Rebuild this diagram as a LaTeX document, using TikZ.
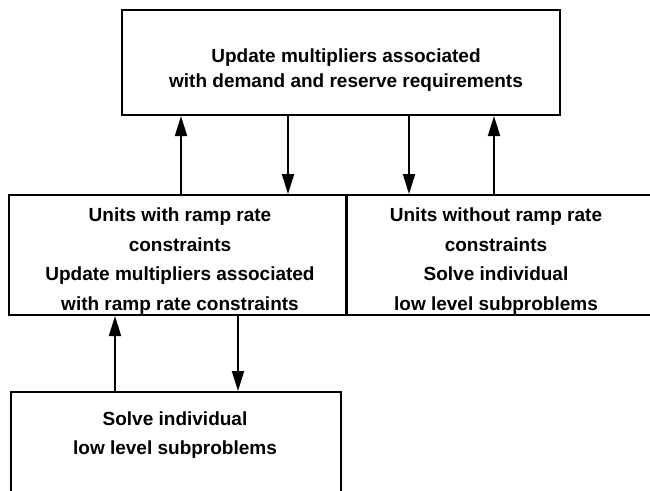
\documentclass[tikz,border=0pt]{standalone}
\usepackage{fontspec}
\setmainfont{Liberation Sans}
\usetikzlibrary{arrows.meta}

\begin{document}
\begin{tikzpicture}[
  x=1pt, y=-1pt,
  >={Triangle[length=20pt, width=12pt]},
  box/.style={draw, line width=2pt, inner sep=0pt},
  txt/.style={font=\fontsize{19}{29.5}\selectfont\bfseries, align=center},
  flow/.style={->, line width=2pt},
]

% Page frame
\useasboundingbox (0,0) rectangle (650,490);

% =============================================
% Boxes
% =============================================

% Top level: master problem
\node[box, minimum width=438pt, minimum height=105pt] (master) at (341,62.5) {};
\node[txt, font=\fontsize{19}{25}\selectfont\bfseries] (mastertxt) at (346,70)
  {Update multipliers associated\\with demand and reserve requirements};

% Middle level, left: units with ramp rate constraints
\node[box, minimum width=337pt, minimum height=120pt] (ramp) at (177.5,255) {};
\node[txt] (ramptxt) at (180,261)
  {Units with ramp rate\\constraints\\Update multipliers associated\\with ramp rate constraints};

% Middle level, right: units without ramp rate constraints (runs off the page)
\node[box, anchor=west, minimum width=324pt, minimum height=120pt] (free) at (346,255) {};
\node[txt] (freetxt) at (496,261)
  {Units without ramp rate\\constraints\\Solve individual\\low level subproblems};

% Bottom level: subproblems (runs off the page)
\node[box, anchor=north west, minimum width=330pt, minimum height=130pt] (sub) at (10,391) {};
\node[txt] (subtxt) at (175,435)
  {Solve individual\\low level subproblems};

% =============================================
% Connectors
% =============================================

\coordinate (c1) at (181,0);
\coordinate (c2) at (288,0);
\coordinate (c3) at (409,0);
\coordinate (c4) at (494,0);
\coordinate (c5) at (115,0);
\coordinate (c6) at (238,0);

% Between top and middle
\draw[flow] (ramp.north -| c1) -- (master.south -| c1);
\draw[flow] (master.south -| c2) -- (ramp.north -| c2);
\draw[flow] (master.south -| c3) -- (free.north -| c3);
\draw[flow] (free.north -| c4) -- (master.south -| c4);

% Between middle and bottom
\draw[flow] (sub.north -| c5) -- (ramp.south -| c5);
\draw[flow] (ramp.south -| c6) -- (sub.north -| c6);

\end{tikzpicture}
\end{document}
